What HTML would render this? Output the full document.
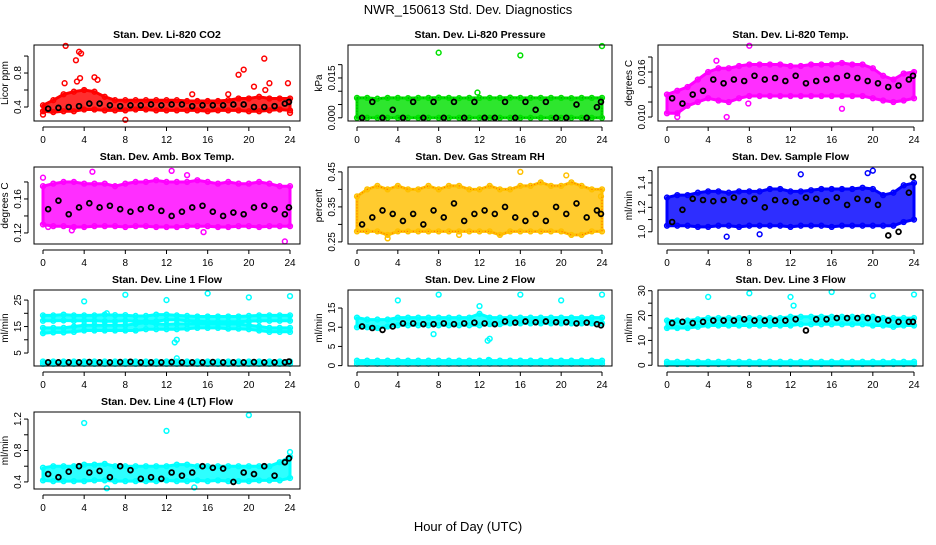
<!DOCTYPE html>
<html><head><meta charset="utf-8">
<style>
html,body{margin:0;padding:0;background:#fff;}
svg text{font-family:"Liberation Sans",Arial,sans-serif;}
</style></head>
<body>
<svg id="chart" width="936" height="540" viewBox="0 0 936 540" xmlns="http://www.w3.org/2000/svg">
<rect width="936" height="540" fill="#fff"/>
<text x="468" y="14" font-size="13" text-anchor="middle">NWR_150613 Std. Dev. Diagnostics</text>
<text x="468" y="531" font-size="13" text-anchor="middle">Hour of Day (UTC)</text>
</svg>
<script>
// ---- data ----
const hours = [0,1,2,3,4,5,6,7,8,9,10,11,12,13,14,15,16,17,18,19,20,21,22,23,24];
const xTicks = [0,4,8,12,16,20,24];

const co2Lo = [0.35,0.34,0.35,0.35,0.37,0.37,0.36,0.36,0.36,0.37,0.37,0.36,0.36,0.36,0.36,0.36,0.35,0.36,0.36,0.36,0.35,0.35,0.36,0.37,0.36];
const co2Hi = [0.42,0.48,0.55,0.58,0.60,0.58,0.52,0.48,0.48,0.48,0.48,0.48,0.48,0.48,0.47,0.47,0.47,0.47,0.48,0.50,0.50,0.52,0.50,0.50,0.50];
const co2Mean = [0.38,0.39,0.40,0.41,0.44,0.44,0.42,0.41,0.42,0.42,0.43,0.42,0.43,0.43,0.41,0.42,0.42,0.42,0.43,0.43,0.40,0.40,0.41,0.44,0.46];
const co2Out = [[2.2,1.12],[3.5,1.05],[3.7,1.03],[3.2,0.95],[2.1,0.68],[3.3,0.70],[3.6,0.74],[5,0.75],[5.3,0.72],[19,0.78],[19.5,0.84],[21.5,0.97],[20.5,0.64],[22,0.68],[23.8,0.68],[8,0.25],[14.5,0.55],[18,0.55],[21.6,0.60],[0,0.31],[24,0.33]];

const presLo = [0,0,0,0,0,0,0,0,0,0,0,0,0,0,0,0,0,0,0,0,0,0,0,0,0];
const presHi = [0.0075,0.0075,0.0072,0.0075,0.0075,0.0074,0.0075,0.0075,0.0076,0.0075,0.0074,0.0075,0.0075,0.0075,0.0075,0.0076,0.0075,0.0075,0.0075,0.0075,0.0075,0.0074,0.0075,0.0075,0.0075];
const presMean = [0,0.006,0,0.003,0,0.006,0,0.006,0,0.006,0,0.006,0,0,0.006,0,0.006,0.003,0.006,0,0,0.005,0,0.004,0.006];
const presOut = [[8,0.0245],[16,0.0235],[24,0.0270],[11.8,0.0095]];

const ltLo = [0.0105,0.0105,0.0115,0.0120,0.0125,0.0122,0.0120,0.0125,0.0128,0.0128,0.0128,0.0128,0.0128,0.0128,0.0128,0.0128,0.0128,0.0128,0.0128,0.0128,0.0125,0.0122,0.0120,0.0122,0.0125];
const ltHi = [0.0130,0.0135,0.0140,0.0150,0.0160,0.0165,0.0165,0.0168,0.0170,0.0170,0.0170,0.0170,0.0168,0.0168,0.0170,0.0170,0.0170,0.0172,0.0170,0.0170,0.0165,0.0155,0.0150,0.0158,0.0160];
const ltMean = [0.0125,0.0118,0.0130,0.0135,0.0150,0.0145,0.0150,0.0148,0.0155,0.0150,0.0152,0.0148,0.0155,0.0145,0.0148,0.0150,0.0152,0.0155,0.0152,0.0148,0.0145,0.0140,0.0142,0.0150,0.0155];
const ltOut = [[8,0.0195],[5.8,0.0100],[1,0.0100],[17,0.0111],[4.8,0.0175],[7.9,0.0118]];

const ambLo = [0.130,0.128,0.128,0.127,0.127,0.128,0.128,0.128,0.127,0.128,0.128,0.127,0.127,0.127,0.128,0.128,0.128,0.127,0.127,0.128,0.128,0.127,0.128,0.128,0.128];
const ambHi = [0.175,0.178,0.180,0.180,0.178,0.178,0.178,0.175,0.178,0.180,0.180,0.182,0.180,0.180,0.180,0.182,0.180,0.178,0.180,0.178,0.178,0.180,0.178,0.175,0.175];
const ambMean = [0.148,0.158,0.142,0.150,0.155,0.150,0.152,0.148,0.145,0.148,0.150,0.146,0.140,0.145,0.150,0.152,0.145,0.140,0.144,0.142,0.150,0.152,0.148,0.142,0.150];
const ambOut = [[0,0.185],[0.5,0.127],[2.8,0.123],[4.8,0.192],[12.5,0.193],[15.6,0.121],[23.5,0.110],[14,0.188]];

const rhLo = [0.28,0.28,0.28,0.27,0.28,0.28,0.28,0.28,0.28,0.28,0.28,0.28,0.28,0.28,0.27,0.28,0.28,0.28,0.28,0.28,0.28,0.27,0.27,0.28,0.28];
const rhHi = [0.38,0.40,0.41,0.40,0.41,0.40,0.40,0.41,0.40,0.41,0.41,0.40,0.40,0.41,0.40,0.40,0.41,0.41,0.42,0.41,0.41,0.42,0.41,0.40,0.40];
const rhMean = [0.30,0.32,0.34,0.33,0.31,0.33,0.30,0.34,0.32,0.36,0.31,0.33,0.34,0.33,0.35,0.32,0.31,0.33,0.31,0.35,0.33,0.36,0.32,0.34,0.33];
const rhOut = [[3,0.26],[10,0.27],[20.5,0.44],[16,0.45],[23.9,0.38]];

const sfLo = [1.05,1.05,1.05,1.04,1.04,1.05,1.05,1.04,1.05,1.05,1.05,1.05,1.04,1.05,1.05,1.05,1.04,1.05,1.05,1.05,1.05,1.05,1.05,1.08,1.10];
const sfHi = [1.28,1.30,1.30,1.32,1.33,1.33,1.32,1.33,1.33,1.33,1.35,1.35,1.33,1.33,1.34,1.35,1.35,1.35,1.35,1.36,1.35,1.30,1.32,1.38,1.40];
const sfMean = [1.08,1.18,1.27,1.26,1.25,1.26,1.28,1.25,1.27,1.20,1.26,1.25,1.24,1.28,1.27,1.25,1.28,1.22,1.27,1.26,1.22,0.97,1.00,1.32,1.45];
const sfOut = [[20,1.50],[13,1.47],[19.5,1.48],[5.8,0.96],[9,0.98]];

const l1HiLo = [17.2,17.2,17.3,17.2,17.2,17.2,17.0,17.0,17.2,17.0,17.0,17.0,17.5,17.5,17.2,17.0,16.8,16.8,16.8,16.8,17.0,17.2,17.2,17.2,17.2];
const l1HiHi = [19.2,19.2,19.5,19.2,19.2,19.2,19.5,19.3,19.3,19.0,19.0,19.5,19.5,19.2,19.0,18.8,18.8,18.8,18.8,18.8,19.0,19.2,19.2,19.2,19.2];
const l1MidLo = [12.5,12.8,12.8,13.0,13.5,13.5,13.5,13.5,13.5,13.5,14.0,14.0,14.0,14.0,14.2,14.5,14.5,14.5,14.2,14.2,14.0,13.5,13.0,13.0,13.0];
const l1MidHi = [14.5,14.5,14.5,15.0,15.5,15.5,15.5,15.5,15.5,16.0,16.5,16.0,15.8,16.0,16.0,16.0,16.0,16.0,16.0,16.0,15.5,15.0,14.5,14.5,14.5];
const l1LowLo = [0.9,0.9,0.9,0.9,0.9,0.9,0.9,0.9,0.9,0.9,0.9,0.9,0.9,0.9,0.9,0.9,0.9,0.9,0.9,0.9,0.9,0.9,0.9,0.9,0.9];
const l1LowHi = [1.8,1.8,1.8,1.8,1.8,1.8,1.8,1.8,1.8,1.8,1.8,1.8,1.8,1.8,1.8,1.8,1.8,1.8,1.8,1.8,1.8,1.8,1.8,1.8,1.8];
const l1Mean = [1.5,1.5,1.5,1.5,1.6,1.5,1.5,1.6,1.7,1.5,1.5,1.5,1.6,1.5,1.5,1.5,1.6,1.5,1.5,1.5,1.6,1.5,1.5,1.5,1.8];
const l1Out = [[4,24.5],[8,27],[12,25],[16,27.5],[20,26],[24,26.5],[12.8,9],[13,10],[13,3],[6.2,20]];

const l2BandLo = [10.0,10.0,9.8,10.2,10.5,10.5,10.5,10.5,10.5,10.5,10.5,10.5,10.5,10.8,10.8,11.0,11.0,11.0,11.0,11.0,11.0,11.0,11.0,11.0,11.0];
const l2BandHi = [12.5,12.0,12.0,12.0,12.5,12.5,12.5,12.5,12.5,12.5,12.5,12.5,13.5,12.5,12.5,12.5,12.5,12.5,12.5,12.5,12.5,12.5,12.5,12.5,12.5];
const l2LowLo = [0.5,0.5,0.5,0.5,0.5,0.5,0.5,0.5,0.5,0.5,0.5,0.5,0.5,0.5,0.5,0.5,0.5,0.5,0.5,0.5,0.5,0.5,0.5,0.5,0.5];
const l2LowHi = [1.3,1.3,1.3,1.3,1.3,1.3,1.3,1.3,1.3,1.3,1.3,1.3,1.3,1.3,1.3,1.3,1.3,1.3,1.3,1.3,1.3,1.3,1.3,1.3,1.3];
const l2Mean = [10.2,9.8,9.3,10.2,11.0,11.0,10.8,10.8,11.0,10.8,11.0,11.2,11.0,10.8,11.5,11.2,11.5,11.3,11.5,11.3,11.3,11.0,11.2,10.8,10.5];
const l2Out = [[4,17],[8,18.5],[12,15.5],[16,18.5],[20,17],[24,18.5],[7.5,8.2],[12.8,6.5],[13,7],[12.9,1.5]];

const l3BandLo = [15.0,15.0,15.0,15.5,16.0,16.0,16.0,16.0,16.0,16.0,16.0,16.0,16.0,16.5,16.5,16.5,16.5,16.5,16.5,16.5,16.0,16.0,15.5,16.0,16.0];
const l3BandHi = [18.0,18.0,18.0,18.5,19.0,19.0,19.0,19.0,19.0,19.0,19.0,19.0,19.5,19.5,19.5,19.5,19.5,19.5,19.5,19.5,19.5,19.0,19.0,19.0,19.0];
const l3LowLo = [0.5,0.5,0.5,0.5,0.5,0.5,0.5,0.5,0.5,0.5,0.5,0.5,0.5,0.5,0.5,0.5,0.5,0.5,0.5,0.5,0.5,0.5,0.5,0.5,0.5];
const l3LowHi = [1.4,1.4,1.4,1.4,1.4,1.4,1.4,1.4,1.4,1.4,1.4,1.4,1.4,1.4,1.4,1.4,1.4,1.4,1.4,1.4,1.4,1.4,1.4,1.4,1.4];
const l3Mean = [17.0,17.5,17.0,17.5,18.0,18.0,18.0,18.5,18.0,18.0,18.0,18.0,18.5,14.0,18.5,18.5,19.0,19.0,19.0,19.0,18.5,18.0,17.5,17.5,17.5];
const l3Out = [[4,27.5],[8,29],[12,27.5],[16,29.5],[20,28],[24,28.5],[12.3,24]];

const l4Lo = [0.42,0.41,0.41,0.41,0.41,0.42,0.42,0.41,0.41,0.41,0.41,0.41,0.42,0.41,0.41,0.42,0.41,0.42,0.41,0.41,0.41,0.42,0.42,0.42,0.45];
const l4Hi = [0.58,0.60,0.60,0.60,0.62,0.62,0.63,0.60,0.60,0.60,0.60,0.60,0.60,0.62,0.62,0.60,0.60,0.60,0.60,0.60,0.60,0.60,0.60,0.65,0.72];
const l4Mean = [0.50,0.46,0.53,0.60,0.52,0.54,0.46,0.60,0.55,0.44,0.46,0.44,0.52,0.48,0.52,0.60,0.58,0.57,0.40,0.52,0.50,0.60,0.48,0.65,0.70];
const l4Out = [[4,1.15],[12,1.05],[20,1.25],[6.2,0.32],[24,0.78],[14.7,0.33]];

const NS = 'http://www.w3.org/2000/svg';
const svg = document.getElementById('chart');
function mk(tag, attrs, parent){
  const e = document.createElementNS(NS, tag);
  for (const k in attrs) e.setAttribute(k, attrs[k]);
  (parent||svg).appendChild(e);
  return e;
}

const COLS = [{l:34,r:300,x0:43,x24:290},{l:348,r:612,x0:357,x24:602},{l:658,r:923,x0:667,x24:914}];
const ROWS = [{t:45,b:121},{t:167,b:244},{t:290,b:366},{t:412,b:489}];

const panels = [
 {name:'co2',title:'Stan. Dev. Li-820 CO2',ylab:'Licor ppm',col:0,row:0,ymin:0.235,ymax:1.13,ticks:[0.4,0.6,0.8,1.0],labels:['0.4','','0.8',''],color:'#ff0000',bands:[[co2Lo,co2Hi]],mean:co2Mean,out:co2Out},
 {name:'pressure',title:'Stan. Dev. Li-820 Pressure',ylab:'kPa',col:1,row:0,ymin:-0.0012,ymax:0.0274,ticks:[0,0.005,0.010,0.015,0.020],labels:['0.000','','','0.015',''],color:'#00e000',tex:'#006000',bands:[[presLo,presHi]],mean:presMean,out:presOut},
 {name:'li820-temp',title:'Stan. Dev. Li-820 Temp.',ylab:'degrees C',col:2,row:0,ymin:0.00947,ymax:0.0196,ticks:[0.010,0.012,0.014,0.016,0.018],labels:['0.010','','','0.016',''],color:'#ff00ff',bands:[[ltLo,ltHi]],mean:ltMean,out:ltOut},
 {name:'amb-box-temp',title:'Stan. Dev. Amb. Box Temp.',ylab:'degrees C',col:0,row:1,ymin:0.107,ymax:0.1976,ticks:[0.12,0.14,0.16,0.18],labels:['0.12','','0.16',''],color:'#ff00ff',bands:[[ambLo,ambHi]],mean:ambMean,out:ambOut},
 {name:'gas-rh',title:'Stan. Dev. Gas Stream RH',ylab:'percent',col:1,row:1,ymin:0.244,ymax:0.464,ticks:[0.25,0.30,0.35,0.40,0.45],labels:['0.25','','0.35','','0.45'],color:'#ffc000',tex:'#ff2000',bands:[[rhLo,rhHi]],mean:rhMean,out:rhOut},
 {name:'sample-flow',title:'Stan. Dev. Sample Flow',ylab:'ml/min',col:2,row:1,ymin:0.90,ymax:1.53,ticks:[1.0,1.1,1.2,1.3,1.4,1.5],labels:['1.0','','1.2','','1.4',''],color:'#0000ff',bands:[[sfLo,sfHi]],mean:sfMean,out:sfOut},
 {name:'line1-flow',title:'Stan. Dev. Line 1 Flow',ylab:'ml/min',col:0,row:2,ymin:0.1,ymax:28.8,ticks:[5,10,15,20,25],labels:['5','','15','','25'],color:'#00ffff',bands:[[l1HiLo,l1HiHi],[l1MidLo,l1MidHi],[l1LowLo,l1LowHi]],mean:l1Mean,out:l1Out},
 {name:'line2-flow',title:'Stan. Dev. Line 2 Flow',ylab:'ml/min',col:1,row:2,ymin:-0.1,ymax:19.7,ticks:[0,5,10,15],labels:['0','5','10','15'],color:'#00ffff',bands:[[l2BandLo,l2BandHi],[l2LowLo,l2LowHi]],mean:l2Mean,out:l2Out},
 {name:'line3-flow',title:'Stan. Dev. Line 3 Flow',ylab:'ml/min',col:2,row:2,ymin:-0.3,ymax:30.3,ticks:[0,5,10,15,20,25,30],labels:['0','','10','','20','','30'],color:'#00ffff',bands:[[l3BandLo,l3BandHi],[l3LowLo,l3LowHi]],mean:l3Mean,out:l3Out},
 {name:'line4-flow',title:'Stan. Dev. Line 4 (LT) Flow',ylab:'ml/min',col:0,row:3,ymin:0.31,ymax:1.29,ticks:[0.4,0.6,0.8,1.0,1.2],labels:['0.4','','0.8','','1.2'],color:'#00ffff',bands:[[l4Lo,l4Hi]],mean:l4Mean,out:l4Out}
];

panels.forEach(p => {
  const C = COLS[p.col], R = ROWS[p.row];
  const xs = h => C.x0 + (C.x24 - C.x0) * h / 24;
  const ys = v => R.b - (R.b - R.t) * (v - p.ymin) / (p.ymax - p.ymin);
  const g = mk('g', {});
  
  
  const cx = (C.l + C.r) / 2;
  const t = mk('text', {x:cx, y:R.t-7, 'font-size':10.5, 'font-weight':'bold', 'text-anchor':'middle'}, g);
  t.textContent = p.title;
  
  
  p.bands.forEach((b, bi) => {
    let d = '';
    hours.forEach((h, i) => { d += (i ? 'L' : 'M') + xs(h).toFixed(1) + ',' + ys(b[1][i]).toFixed(1); });
    for (let i = hours.length - 1; i >= 0; i--) d += 'L' + xs(hours[i]).toFixed(1) + ',' + ys(b[0][i]).toFixed(1);
    const band = mk('path', {d:d + 'Z', fill:p.color, 'fill-opacity':0.82, stroke:p.color, 'stroke-width':3, 'stroke-linejoin':'round'}, g);
    
    
    if (p.tex) {
      const tx = mk('path', {d:d + 'Z', fill:'none', stroke:p.tex, 'stroke-width':1, 'stroke-dasharray':'1 2', opacity:0.6}, g);
      
      
    }
    hours.forEach((h, i) => {
      [b[0][i], b[1][i]].forEach(v => {
        const c = mk('circle', {cx:xs(h), cy:ys(v), r:2.4, fill:'none', stroke:p.color, 'stroke-width':1.5}, g);
        
        
      });
    });
  });
  p.out.forEach(o => {
    const c = mk('circle', {cx:xs(o[0]), cy:ys(o[1]), r:2.4, fill:'none', stroke:p.color, 'stroke-width':1.5}, g);
    
    
  });
  p.mean.forEach((v, i) => {
    const c = mk('circle', {cx:xs(i + 0.5 - (i===24?0.6:0)), cy:ys(v), r:2.4, fill:'none', stroke:'#000', 'stroke-width':1.8}, g);
    
    
  });
  const fr = mk('rect', {x:C.l, y:R.t, width:C.r - C.l, height:R.b - R.t, fill:'none', stroke:'#000', 'stroke-width':1}, g);
  
  
  const xa = mk('line', {x1:xs(0), x2:xs(24), y1:R.b + 6, y2:R.b + 6, stroke:'#000'}, g);
  
  
  xTicks.forEach(h => {
    mk('line', {x1:xs(h), x2:xs(h), y1:R.b + 6, y2:R.b + 10, stroke:'#000'}, g);
    const lt = mk('text', {x:xs(h), y:R.b + 22, 'font-size':10, 'text-anchor':'middle'}, g);
    lt.textContent = h;
    
    
  });
  const ya = mk('line', {x1:C.l - 6, x2:C.l - 6, y1:ys(p.ticks[0]), y2:ys(p.ticks[p.ticks.length - 1]), stroke:'#000'}, g);
  
  
  p.ticks.forEach((v, i) => {
    mk('line', {x1:C.l - 10, x2:C.l - 6, y1:ys(v), y2:ys(v), stroke:'#000'}, g);
    if (p.labels[i]) {
      const yy = ys(v), xx = C.l - 13;
      const lt = mk('text', {x:xx, y:yy, 'font-size':10, 'text-anchor':'middle', transform:'rotate(-90 ' + xx + ' ' + yy + ')'}, g);
      lt.textContent = p.labels[i];
      
      
    }
  });
  const ym = (R.t + R.b) / 2, yx = C.l - 26;
  const yl = mk('text', {x:yx, y:ym, 'font-size':10, 'text-anchor':'middle', transform:'rotate(-90 ' + yx + ' ' + ym + ')'}, g);
  yl.textContent = p.ylab;
  
  
});
</script>
</body></html>
